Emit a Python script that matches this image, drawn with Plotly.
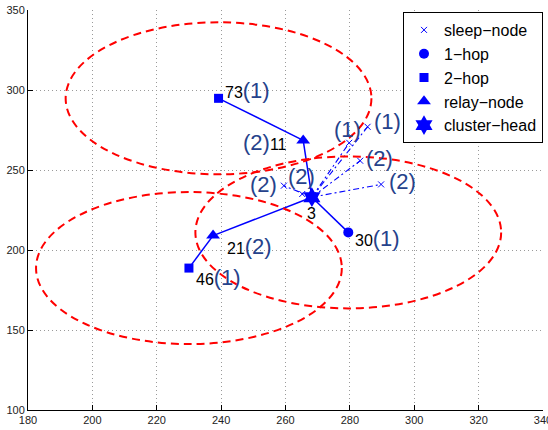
import plotly.graph_objects as go

# ---- data ----
node_ids = [73, 11, 3, 21, 46, 30]
node_x = [239.2, 265.5, 268.2, 237.5, 230.0, 279.5]
node_y = [294.8, 268.5, 233.0, 209.0, 188.7, 211.0]
node_hop = ["(1)", "(2)", "", "(2)", "(1)", "(1)"]

sleep_x = [259.5, 265.2, 279.8, 285.5, 283.2, 289.7]
sleep_y = [240.2, 235.0, 267.0, 277.0, 255.8, 241.0]
sleep_hop = ["(2)", "(2)", "(1)", "(1)", "(2)", "(2)"]

one_hop_ids = [30]
two_hop_ids = [73, 46]
relay_ids = [11, 21]
head_ids = [3]

solid_edges = [(73, 11), (11, 3), (3, 21), (21, 46), (3, 30)]
circle_centers = [73, 46, 30]
radius = 47.5

x_ticks = [180, 200, 220, 240, 260, 280, 300, 320, 340]
y_ticks = [100, 150, 200, 250, 300, 350]

# ---- helpers ----
pos = {i: (x, y) for i, x, y in zip(node_ids, node_x, node_y)}
BLUE = "#0000ff"
NAVY = "#26428b"
FONT = "Liberation Sans, Arial, sans-serif"

fig = go.Figure()

# communication range circles
for c in circle_centers:
    cx, cy = pos[c]
    fig.add_shape(type="circle", xref="x", yref="y",
                  x0=cx - radius, x1=cx + radius, y0=cy - radius, y1=cy + radius,
                  line=dict(color="#ff0000", width=2, dash="8px,5px"), layer="above")

# dash-dot lines head -> sleep nodes
hx, hy = pos[head_ids[0]]
for sx, sy in zip(sleep_x, sleep_y):
    fig.add_trace(go.Scatter(x=[hx, sx], y=[hy, sy], mode="lines",
                             line=dict(color=BLUE, width=1.1, dash="6px,3px,2px,3px"),
                             showlegend=False, hoverinfo="skip"))

# solid edges
for a, b in solid_edges:
    fig.add_trace(go.Scatter(x=[pos[a][0], pos[b][0]], y=[pos[a][1], pos[b][1]],
                             mode="lines", line=dict(color=BLUE, width=1.5),
                             showlegend=False, hoverinfo="skip"))

# markers
fig.add_trace(go.Scatter(x=sleep_x, y=sleep_y, mode="markers", name="sleep\u2212node",
                         marker=dict(symbol="x-thin", size=6, color=BLUE,
                                     line=dict(color=BLUE, width=1))))
fig.add_trace(go.Scatter(x=[pos[i][0] for i in one_hop_ids], y=[pos[i][1] for i in one_hop_ids],
                         mode="markers", name="1\u2212hop",
                         marker=dict(symbol="circle", size=10, color=BLUE)))
fig.add_trace(go.Scatter(x=[pos[i][0] for i in two_hop_ids], y=[pos[i][1] for i in two_hop_ids],
                         mode="markers", name="2\u2212hop",
                         marker=dict(symbol="square", size=9, color=BLUE)))
fig.add_trace(go.Scatter(x=[pos[i][0] for i in relay_ids], y=[pos[i][1] for i in relay_ids],
                         mode="markers", name="relay\u2212node",
                         marker=dict(symbol="triangle-up", size=12, color=BLUE)))
fig.add_trace(go.Scatter(x=[pos[i][0] for i in head_ids], y=[pos[i][1] for i in head_ids],
                         mode="markers", name="cluster\u2212head",
                         marker=dict(symbol="hexagram", size=15, color=BLUE)))

# node labels (number black, hop count navy & larger)
def paren(t):
    return f"<span style='font-size:22px;color:{NAVY}'>{t}</span>"

label_style = {
    73: dict(text_order="num_first", xanchor="left", xshift=4, yshift=8),
    11: dict(text_order="hop_first", xanchor="right", xshift=-14, yshift=-2),
    3: dict(text_order="num_first", xanchor="center", xshift=0, yshift=-16),
    21: dict(text_order="num_first", xanchor="left", xshift=12, yshift=-11),
    46: dict(text_order="num_first", xanchor="left", xshift=5, yshift=-9),
    30: dict(text_order="num_first", xanchor="left", xshift=5, yshift=-6),
}
for i, x, y, h in zip(node_ids, node_x, node_y, node_hop):
    st = label_style[i]
    if st["text_order"] == "num_first":
        txt = f"{i}{paren(h) if h else ''}"
    else:
        txt = f"{paren(h)}{i}"
    fig.add_annotation(x=x, y=y, text=txt, showarrow=False, xanchor=st["xanchor"],
                       yanchor="middle", xshift=st["xshift"], yshift=st["yshift"],
                       font=dict(family=FONT, size=16, color="black"))

sleep_label_style = [
    dict(xanchor="right", xshift=-5, yshift=1),
    dict(xanchor="center", xshift=-1, yshift=18),
    dict(xanchor="center", xshift=-2, yshift=13),
    dict(xanchor="left", xshift=4, yshift=5),
    dict(xanchor="left", xshift=4, yshift=2),
    dict(xanchor="left", xshift=6, yshift=3),
]
for sx, sy, h, st in zip(sleep_x, sleep_y, sleep_hop, sleep_label_style):
    fig.add_annotation(x=sx, y=sy, text=h, showarrow=False, xanchor=st["xanchor"],
                       yanchor="middle", xshift=st["xshift"], yshift=st["yshift"],
                       font=dict(family=FONT, size=22, color=NAVY))

axis_common = dict(showgrid=True, gridcolor="#9a9a9a", griddash="1px,3px", gridwidth=1,
                   showline=True, linecolor="black", linewidth=1, ticks="inside",
                   ticklen=5, tickcolor="black", zeroline=False, automargin=False,
                   ticklabeloverflow="allow",
                   tickfont=dict(family=FONT, size=11, color="#222"))

fig.update_layout(
    width=548, height=430,
    margin=dict(l=28, r=5, t=10, b=20),
    paper_bgcolor="white", plot_bgcolor="white",
    xaxis=dict(range=[180, 340], tickvals=x_ticks, **axis_common),
    yaxis=dict(range=[100, 350], tickvals=y_ticks, **axis_common),
    legend=dict(x=1, y=0.995, xanchor="right", yanchor="top",
                bgcolor="white", bordercolor="black", borderwidth=1,
                font=dict(family=FONT, size=16, color="black"),
                tracegroupgap=0, itemwidth=30),
    showlegend=True,
)

fig.write_html("out.html", config={"displayModeBar": False},
               post_script="document.body.style.margin='0';document.body.style.overflow='hidden';")
